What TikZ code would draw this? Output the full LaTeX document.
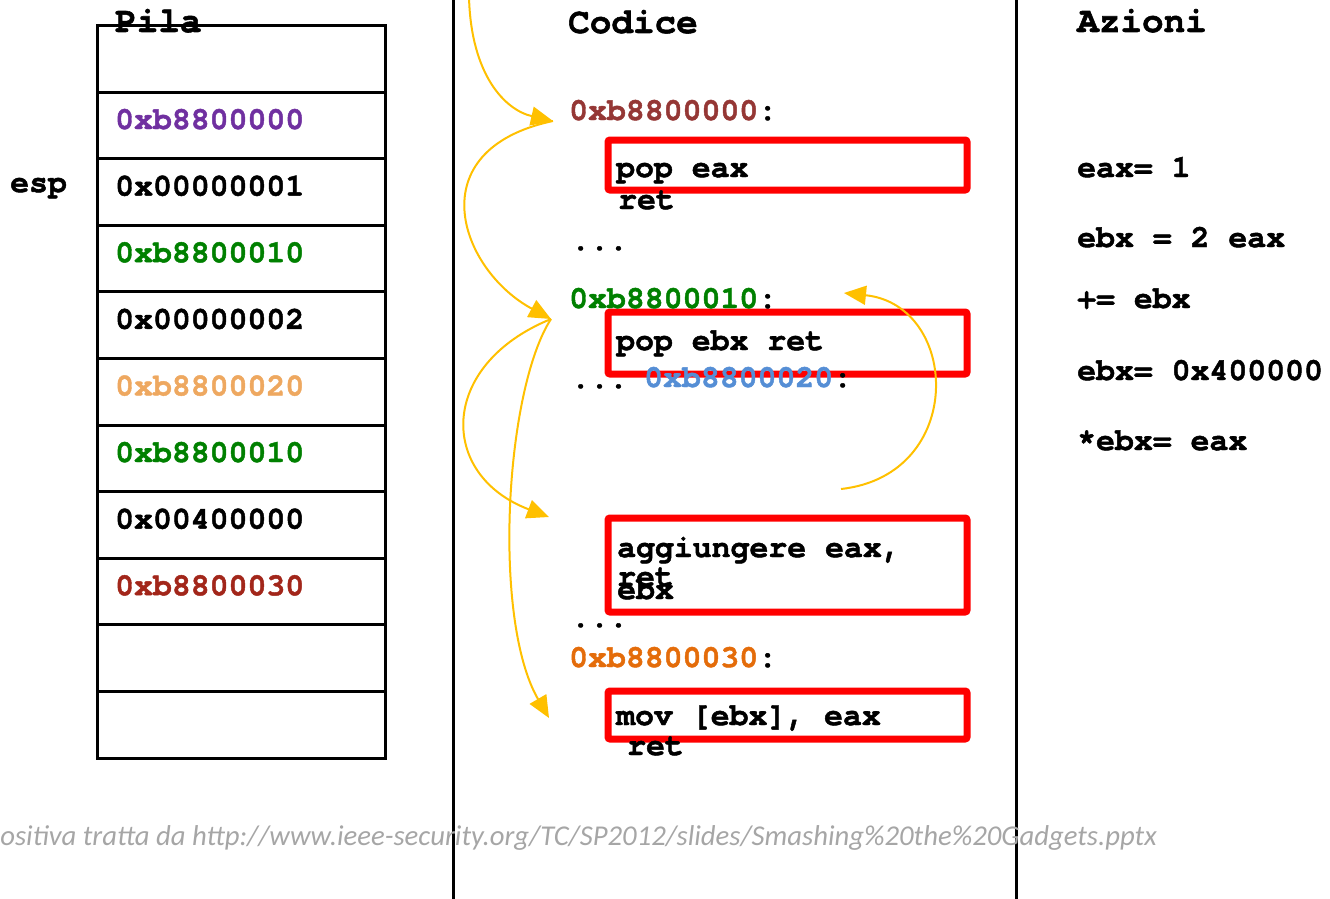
\documentclass[tikz,border=0pt]{standalone}
\usepackage{fontspec}
\setmonofont{TeX Gyre Cursor}[BoldFeatures={FakeBold=1.5}]
\newfontfamily\footfont{Carlito}
\usetikzlibrary{arrows.meta}
\definecolor{cpurple}{HTML}{7030A0}
\definecolor{cgreen}{HTML}{008000}
\definecolor{clorange}{HTML}{EEA860}
\definecolor{cdred}{HTML}{A2261A}
\definecolor{cbrown}{HTML}{953735}
\definecolor{cblue}{HTML}{558ED5}
\definecolor{corange}{HTML}{E46C0A}
\definecolor{cgold}{HTML}{FFC000}
\definecolor{cfoot}{HTML}{A6A6A6}
\begin{document}
\begin{tikzpicture}[x=1pt,y=-1pt,
  txt/.style={anchor=base west, inner sep=0pt, font=\fontsize{31.5}{36}\selectfont\ttfamily\bfseries},
  head/.style={anchor=base west, inner sep=0pt, font=\fontsize{36}{40}\selectfont\ttfamily\bfseries},
  cell/.style={draw, line width=3pt, minimum width=288pt, minimum height=66.6pt, inner sep=0pt, anchor=north west},
  redbox/.style={draw=red, line width=7pt, rounded corners=2pt, inner sep=0pt, minimum width=359pt},
  flow/.style={draw=cgold, line width=2pt, -{Triangle[length=22pt,width=19pt]}},
  divider/.style={line width=3pt}
]
\useasboundingbox (0,0) rectangle (1330,899);
% dividers
\coordinate (d1t) at (453,0); \coordinate (d1b) at (453,899);
\coordinate (d2t) at (1016,0); \coordinate (d2b) at (1016,899);
\draw[divider] (d1t) -- (d1b);
\draw[divider] (d2t) -- (d2b);
% stack
\foreach \i in {0,...,10} {
  \node[cell] (c\i) at (96,{24+66.6*\i}) {};
}
\node[head] (pila) at (115,32) {Pila};
\node[txt] (esp) at (10,192) {esp};
\node[txt, text=cpurple] (s1) at (115,129) {0xb8800000};
\node[txt] (s2) at (115,195.6) {0x00000001};
\node[txt, text=cgreen] (s3) at (115,262.2) {0xb8800010};
\node[txt] (s4) at (115,328.8) {0x00000002};
\node[txt, text=clorange] (s5t) at (115,395.4) {0xb8800020};
\node[txt, text=cgreen] (s6) at (115,462) {0xb8800010};
\node[txt] (s7) at (115,528.6) {0x00400000};
\node[txt, text=cdred] (s8) at (115,595.2) {0xb8800030};
% code
\node[head] (codice) at (568,33) {Codice};
\node[redbox, minimum height=50pt] (g1) at (787.5,165) {};
\node[redbox, minimum height=62pt] (g2) at (787.5,343) {};
\node[redbox, minimum height=94pt] (g3) at (787.5,565) {};
\node[redbox, minimum height=48pt] (g4) at (787.5,715) {};
\node[txt] (a1) at (569,120) {{\color{cbrown}0xb8800000}:};
\node[txt] (p1) at (616,177) {pop eax};
\node[txt] (r1) at (618,209) {ret};
\node[txt] (dots1) at (571,250) {...};
\node[txt] (a2) at (569,308) {{\color{cgreen}0xb8800010}:};
\node[txt] (p2) at (616,350) {pop ebx ret};
\node[txt] (dots2) at (571,388) {...};
\node[txt] (a3) at (644,387) {{\color{cblue}0xb8800020}:};
\node[txt] (p3) at (617,557) {aggiungere eax,};
\node[txt] (r3) at (617,586) {ret};
\node[txt] (e3) at (617,599) {ebx};
\node[txt] (dots3) at (571,627) {...};
\node[txt] (a4) at (569,667) {{\color{corange}0xb8800030}:};
\node[txt] (p4) at (616,725) {mov [ebx], eax};
\node[txt] (r4) at (627,755) {ret};
% actions
\node[head] (azioni) at (1077,32) {Azioni};
\node[txt] (z1) at (1077,177) {eax= 1};
\node[txt] (z2) at (1077,247) {ebx = 2 eax};
\node[txt] (z3) at (1077,308) {+= ebx};
\node[txt] (z4) at (1077,380) {ebx= 0x400000};
\node[txt] (z5) at (1077,450) {*ebx= eax};
% arrows
\coordinate (f0) at (469,-3);
\coordinate (t1) at (553,121);
\coordinate (t2) at (551,319);
\coordinate (t3) at (549,517);
\coordinate (t4) at (549,718);
\coordinate (f5) at (841,489);
\coordinate (t5) at (844,293);
\draw[flow] (f0) .. controls (471,75) and (505,110) .. (t1);
\draw[flow] (t1) .. controls (417,150) and (460,270) .. (t2);
\draw[flow] (t2) .. controls (438,365) and (438,475) .. (t3);
\draw[flow] (t2) .. controls (505,390) and (492,620) .. (t4);
\draw[flow] (f5) .. controls (967,475) and (960,305) .. (t5);
% footer
\node[anchor=base east, inner sep=0pt, text=cfoot, font=\footfont\itshape\fontsize{28.7}{32}\selectfont] (foot) at (1157,845) {Diapositiva tratta da http://www.ieee-security.org/TC/SP2012/slides/Smashing\%20the\%20Gadgets.pptx};
\end{tikzpicture}
\end{document}
